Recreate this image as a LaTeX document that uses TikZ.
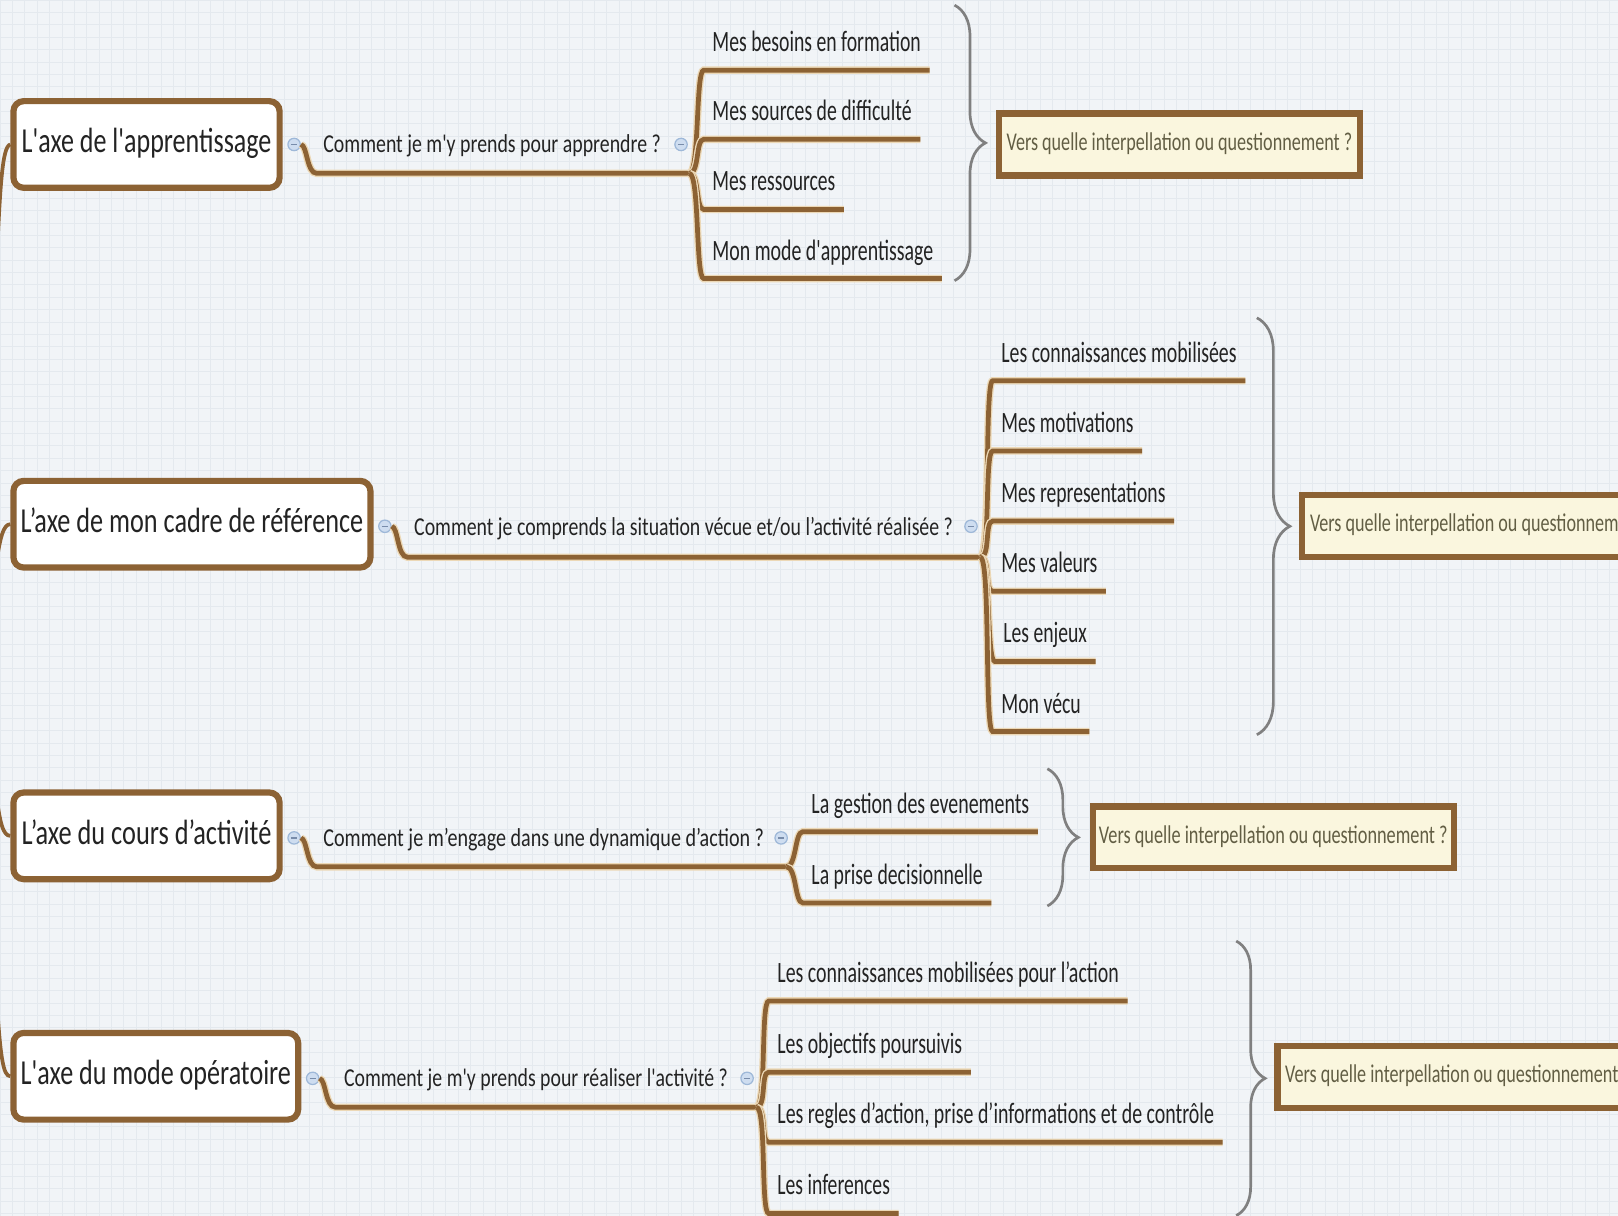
\documentclass[tikz,border=0pt]{standalone}
\usepackage{fontspec}
\setmainfont{Carlito}[Ligatures=TeXOff]
\usepackage{graphicx}
\usetikzlibrary{calc,decorations.pathreplacing}
\definecolor{brn}{RGB}{140,98,52}
\definecolor{halo}{RGB}{236,216,182}
\definecolor{bgc}{RGB}{241,244,247}
\definecolor{gridc}{RGB}{228,233,238}
\definecolor{bracec}{RGB}{128,128,128}
\definecolor{versfill}{RGB}{250,246,222}
\definecolor{verstext}{RGB}{98,94,68}
\definecolor{circfill}{RGB}{206,221,240}
\definecolor{circdraw}{RGB}{158,184,216}
\definecolor{circmark}{RGB}{120,140,170}
\definecolor{txt}{RGB}{35,35,35}
\newcommand\fitw[2]{\resizebox{#1pt}{\height}{#2}}
\begin{document}
\begin{tikzpicture}[x=0.5pt,y=-0.5pt,
 titlebox/.style={draw=brn, line width=3pt, fill=white, rounded corners=5pt, minimum height=42pt, inner sep=0pt, text height=12pt, text depth=4pt, font=\fontsize{17}{20}\selectfont, text=txt},
 question/.style={anchor=base west, inner sep=0pt, font=\fontsize{12.5}{14}\selectfont, text=txt},
 itemtext/.style={anchor=base west, inner xsep=4pt, inner ysep=0pt, font=\fontsize{14.3}{16}\selectfont, text=txt},
 versbox/.style={draw=brn, line width=3pt, fill=versfill, minimum width=175pt, minimum height=30pt, inner sep=0pt, text height=8pt, text depth=2pt, font=\fontsize{12.4}{14}\selectfont, text=verstext, anchor=west},
 branch/.style={draw=brn, line width=2.3pt, preaction={draw=halo, line width=3.6pt}},
 rootline/.style={draw=brn, line width=1.8pt},
 curly/.style={draw=bracec, line width=1.3pt, decorate},
 collapse/.style={circle, draw=circdraw, fill=circfill, line width=0.6pt, minimum size=6pt, inner sep=0pt,
   path picture={\draw[circmark, line width=0.7pt] ([xshift=-1.5pt]path picture bounding box.center) -- ([xshift=1.5pt]path picture bounding box.center);}}
]
\useasboundingbox (0,0) rectangle (1568,1178);
\clip (0,0) rectangle (1568,1178);
\fill[bgc] (0,0) rectangle (1568,1178);
\draw[gridc, line width=0.35pt] (0,0) grid[step=6pt] (1568,1178);

% ---------- titles ----------
\node[titlebox, minimum width=129pt] (t1) at (142,140) {\fitw{121}{L'axe de l'apprentissage}};
\node[titlebox, minimum width=173pt] (t2) at (186,508) {\fitw{166}{L’axe de mon cadre de référence}};
\node[titlebox, minimum width=129pt] (t3) at (142,810) {\fitw{121}{L’axe du cours d’activité}};
\node[titlebox, minimum width=138pt] (t4) at (151,1043) {\fitw{131}{L'axe du mode opératoire}};

% root branches
\draw[rootline] (-4,272) .. controls (0,180) and (2,142) .. (t1.west);
\draw[rootline] (-4,548) .. controls (0,522) and (3,508) .. (t2.west);
\draw[rootline] (-4,768) .. controls (0,798) and (3,810) .. (t3.west);
\draw[rootline] (-4,955) .. controls (0,1025) and (3,1043) .. (t4.west);

% ---------- collapse markers ----------
\node[collapse] (c1a) at (285,140) {};
\node[collapse] (c1b) at (660,140) {};
\node[collapse] (c2a) at (373,510) {};
\node[collapse] (c2b) at (941,510) {};
\node[collapse] (c3a) at (285,812) {};
\node[collapse] (c3b) at (757,812) {};
\node[collapse] (c4a) at (303,1045) {};
\node[collapse] (c4b) at (724,1045) {};

% ---------- questions ----------
\node[question] (q1) at (313,148) {\fitw{163.5}{Comment je m'y prends pour apprendre ?}};
\node[question] (q2) at (401,519) {\fitw{261}{Comment je comprends la situation vécue et/ou l’activité réalisée ?}};
\node[question] (q3) at (313,820) {\fitw{213.5}{Comment je m’engage dans une dynamique d’action ?}};
\node[question] (q4) at (333,1053) {\fitw{186}{Comment je m'y prends pour réaliser l'activité ?}};

\coordinate (u1) at (307,168);  \coordinate (f1) at (668,168);
\coordinate (u2) at (395,540);  \coordinate (f2) at (950,540);
\coordinate (u3) at (307,840);  \coordinate (f3) at (762,840);
\coordinate (u4) at (325,1073); \coordinate (f4) at (733,1073);

\draw[branch] (c1a.east) .. controls (298,141) and (297,168) .. (u1) -- (f1);
\draw[branch] (c2a.east) .. controls (386,511) and (385,540) .. (u2) -- (f2);
\draw[branch] (c3a.east) .. controls (298,813) and (297,840) .. (u3) -- (f3);
\draw[branch] (c4a.east) .. controls (316,1046) and (315,1073) .. (u4) -- (f4);

% ---------- items group 1 ----------
\node[itemtext] (i11) at (682,50)  {\fitw{101}{Mes besoins en formation}};
\node[itemtext] (i12) at (682,117) {\fitw{96.5}{Mes sources de difficulté}};
\node[itemtext] (i13) at (682,185) {\fitw{59.5}{Mes ressources}};
\node[itemtext] (i14) at (682,252) {\fitw{107}{Mon mode d'apprentissage}};
\foreach \n in {i11,i12,i13,i14}
  \draw[branch] (f1) .. controls +(10,0) and +(-8,0) .. ($(\n.base west)+(0,18)$) -- ($(\n.base east)+(0,18)$);

% ---------- items group 2 ----------
\node[itemtext] (i21) at (962,351) {\fitw{114}{Les connaissances mobilisées}};
\node[itemtext] (i22) at (962,419) {\fitw{64}{Mes motivations}};
\node[itemtext] (i23) at (962,487) {\fitw{79.5}{Mes representations}};
\node[itemtext] (i24) at (962,555) {\fitw{46.5}{Mes valeurs}};
\node[itemtext] (i25) at (964,623) {\fitw{40.5}{Les enjeux}};
\node[itemtext] (i26) at (962,691) {\fitw{38.5}{Mon vécu}};
\foreach \n in {i21,i22,i23,i24,i25,i26}
  \draw[branch] (f2) .. controls +(10,0) and +(-8,0) .. ($(\n.base west)+(0,18)$) -- ($(\n.base east)+(0,18)$);

% ---------- items group 3 ----------
\node[itemtext] (i31) at (778,788) {\fitw{105.5}{La gestion des evenements}};
\node[itemtext] (i32) at (778,857) {\fitw{83}{La prise decisionnelle}};
\foreach \n in {i31,i32}
  \draw[branch] (f3) .. controls +(10,0) and +(-8,0) .. ($(\n.base west)+(0,18)$) -- ($(\n.base east)+(0,18)$);

% ---------- items group 4 ----------
\node[itemtext] (i41) at (745,952)  {\fitw{165.5}{Les connaissances mobilisées pour l’action}};
\node[itemtext] (i42) at (745,1021) {\fitw{89.5}{Les objectifs poursuivis}};
\node[itemtext] (i43) at (745,1089) {\fitw{211.5}{Les regles d’action, prise d’informations et de contrôle}};
\node[itemtext] (i44) at (745,1158) {\fitw{54.5}{Les inferences}};
\foreach \n in {i41,i42,i43,i44}
  \draw[branch] (f4) .. controls +(10,0) and +(-8,0) .. ($(\n.base west)+(0,18)$) -- ($(\n.base east)+(0,18)$);

% ---------- braces ----------
\coordinate (b1t) at (925,5);    \coordinate (b1b) at (925,272);
\coordinate (b2t) at (1218,308); \coordinate (b2b) at (1218,712);
\coordinate (b3t) at (1015,745); \coordinate (b3b) at (1015,878);
\coordinate (b4t) at (1198,912); \coordinate (b4b) at (1198,1178);
\draw[curly, decoration={brace, amplitude=15pt}] (b1t) -- (b1b);
\draw[curly, decoration={brace, amplitude=16pt}] (b2t) -- (b2b);
\draw[curly, decoration={brace, amplitude=15pt}] (b3t) -- (b3b);
\draw[curly, decoration={brace, amplitude=14pt}] (b4t) -- (b4b);

% ---------- question boxes ----------
\node[versbox] (v1) at (965,140)    {\fitw{167.5}{Vers quelle interpellation ou questionnement ?}};
\node[versbox] (v2) at (1259,509.5) {\fitw{167.5}{Vers quelle interpellation ou questionnement ?}};
\node[versbox] (v3) at (1056,811.5) {\fitw{169}{Vers quelle interpellation ou questionnement ?}};
\node[versbox] (v4) at (1235,1043.5){\fitw{167.5}{Vers quelle interpellation ou questionnement ?}};
\end{tikzpicture}
\end{document}
